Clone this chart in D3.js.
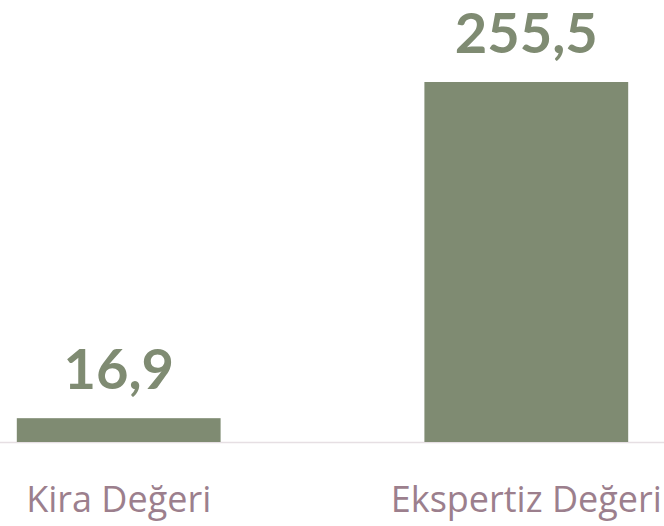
<!DOCTYPE html>
<html>
<head>
<meta charset="utf-8">
<script src="https://cdn.jsdelivr.net/npm/d3@7"></script>
<style>
  html, body { margin: 0; padding: 0; background: #fff; }
  svg { display: block; }
</style>
</head>
<body>
<svg id="chart"></svg>
<script>
// chart data
const categories = ['Kira Değeri', 'Ekspertiz Değeri'];
const values = [16.9, 255.5];
const valueLabels = ['16,9', '255,5'];

const width = 664;
const height = 526;
const barColor = '#7f8b72';
const labelColor = '#9c7f8d';
const baseY = 442;

const svg = d3.select('#chart')
  .attr('width', width)
  .attr('height', height);

// x scale is wider than the view, the plot is cropped on both sides
const x = d3.scaleBand()
  .domain(categories)
  .range([-187, 832])
  .padding(0.5);

const y = d3.scaleLinear()
  .domain([0, 255.5])
  .range([baseY, 82]);

// baseline
svg.append('line')
  .attr('x1', 0)
  .attr('x2', width)
  .attr('y1', baseY + 0.5)
  .attr('y2', baseY + 0.5)
  .attr('stroke', '#e6dfe3')
  .attr('stroke-width', 1.5);

// bars
svg.selectAll('.bar')
  .data(values)
  .enter()
  .append('rect')
  .attr('class', 'bar')
  .attr('x', (d, i) => x(categories[i]))
  .attr('y', d => y(d))
  .attr('width', x.bandwidth())
  .attr('height', d => baseY - y(d))
  .attr('fill', barColor);

// value labels
svg.selectAll('.value')
  .data(values)
  .enter()
  .append('text')
  .attr('class', 'value')
  .attr('x', (d, i) => x(categories[i]) + x.bandwidth() / 2)
  .attr('y', d => y(d) - 29)
  .attr('text-anchor', 'middle')
  .style('font-family', 'Lato, sans-serif')
  .style('font-weight', 'bold')
  .style('font-size', '56px')
  .style('fill', barColor)
  .text((d, i) => valueLabels[i]);

// category labels
svg.selectAll('.cat')
  .data(categories)
  .enter()
  .append('text')
  .attr('class', 'cat')
  .attr('x', d => x(d) + x.bandwidth() / 2)
  .attr('y', 512)
  .attr('text-anchor', 'middle')
  .style('font-family', '"Open Sans", sans-serif')
  .style('font-size', '36px')
  .style('fill', labelColor)
  .text(d => d);
</script>
</body>
</html>
